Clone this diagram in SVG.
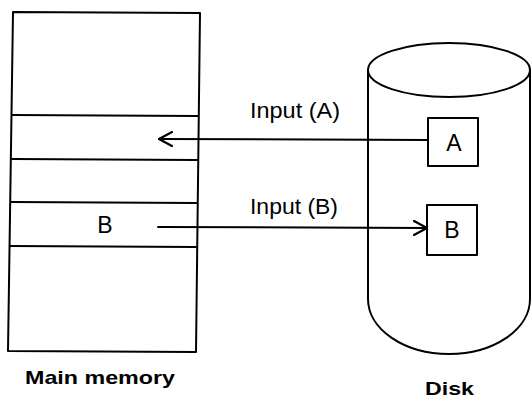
<svg xmlns="http://www.w3.org/2000/svg" width="532" height="398" viewBox="0 0 532 398">
<defs>
<style>
.ln{fill:none;stroke:#000;stroke-width:2;stroke-linejoin:round;stroke-linecap:round}
.t{font-family:"Liberation Sans",Arial,sans-serif;font-size:22px;fill:#000}
.c{font-family:"Liberation Sans",Arial,sans-serif;font-size:23px;fill:#000}
.b{font-family:"Liberation Sans",Arial,sans-serif;font-size:19px;font-weight:bold;fill:#000}
</style>
<marker id="chev" markerWidth="16" markerHeight="18" refX="14" refY="8" orient="auto" markerUnits="userSpaceOnUse">
<path d="M1,1 L14,8 L1,15" fill="none" stroke="#000" stroke-width="2.2" stroke-linecap="round" stroke-linejoin="round"/>
</marker>
</defs>
<rect width="532" height="398" fill="#fff"/>
<g id="main-memory">
<path class="ln" d="M13,12 L200,13 L196,352 L8,351 Z"/>
<path class="ln" d="M12,115 L198,116"/>
<path class="ln" d="M12,159 L197,160"/>
<path class="ln" d="M11,202 L197,203"/>
<path class="ln" d="M10,246 L196,247"/>
<text class="c" x="105" y="233" text-anchor="middle">B</text>
<text class="b" x="25" y="384" textLength="150" lengthAdjust="spacingAndGlyphs">Main memory</text>
</g>
<g id="disk">
<path class="ln" d="M368,70 L368,299 A81,55 0 0 0 530,299 L530,70"/>
<ellipse class="ln" cx="449" cy="70" rx="81" ry="27"/>
<text class="b" x="425" y="395" textLength="49" lengthAdjust="spacingAndGlyphs">Disk</text>
</g>
<g id="block-a">
<rect class="ln" x="428" y="118" width="50" height="48" fill="#fff"/>
<text class="c" x="454" y="151" text-anchor="middle">A</text>
</g>
<g id="block-b">
<rect class="ln" x="427" y="205" width="50" height="50" fill="#fff"/>
<text class="c" x="452" y="238" text-anchor="middle">B</text>
</g>
<g id="connectors">
<line class="ln" x1="428" y1="140" x2="159" y2="139" marker-end="url(#chev)"/>
<text class="t" x="250" y="118" textLength="90" lengthAdjust="spacingAndGlyphs">Input (A)</text>
<line class="ln" x1="158" y1="227" x2="427" y2="228" marker-end="url(#chev)"/>
<text class="t" x="250" y="214" textLength="88" lengthAdjust="spacingAndGlyphs">Input (B)</text>
</g>
</svg>
